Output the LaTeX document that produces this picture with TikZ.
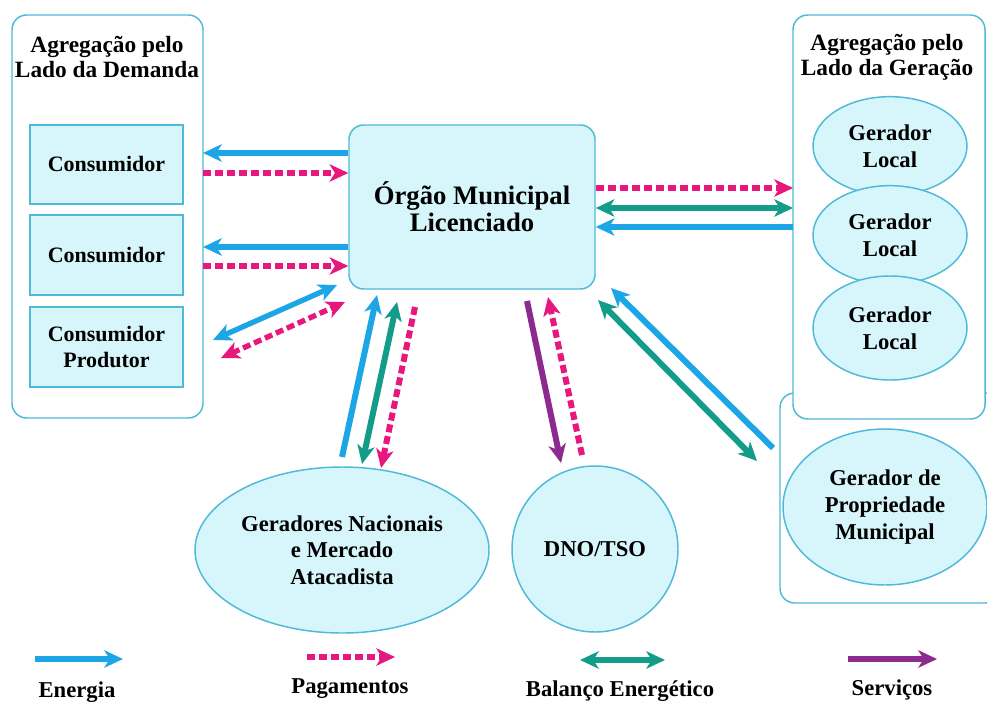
\documentclass[tikz,border=0pt]{standalone}
\usepackage{fontspec}
\setmainfont{Liberation Serif}
\usetikzlibrary{arrows.meta,shapes.geometric,calc}
\definecolor{boxfill}{HTML}{D6F6FC}
\definecolor{boxline}{HTML}{4FB9D8}
\definecolor{energy}{HTML}{1DA6E6}
\definecolor{pay}{HTML}{E8177E}
\definecolor{bal}{HTML}{149C8B}
\definecolor{serv}{HTML}{8C2B8E}
\tikzset{
  group/.style={draw=boxline, line width=1.1pt, rounded corners=11pt, fill=white},
  cbox/.style={draw=boxline, fill=boxfill, line width=1pt, inner sep=0pt,
    minimum width=114.75pt, align=center, font=\bfseries\fontsize{16.5}{19}\selectfont},
  orgbox/.style={draw=boxline, fill=boxfill, line width=1.1pt, rounded corners=11pt,
    minimum width=184.5pt, minimum height=123pt, align=center,
    font=\bfseries\fontsize{20}{20.5}\selectfont},
  ell/.style={ellipse, draw=boxline, fill=boxfill, line width=1.1pt, inner sep=0pt,
    align=center, font=\bfseries\fontsize{17}{20}\selectfont},
  gtitle/.style={align=center, font=\bfseries\fontsize{17.5}{19}\selectfont},
  legtext/.style={font=\bfseries\fontsize{17}{19}\selectfont},
  tip/.style={Stealth[length=14pt,width=13pt,inset=4pt]},
  en/.style={draw=energy, line width=4.5pt, -{Stealth[length=14pt,width=13pt,inset=4pt]}},
  enb/.style={draw=energy, line width=4pt, {Stealth[length=14pt,width=13pt,inset=4pt]}-{Stealth[length=14pt,width=13pt,inset=4pt]}},
  pa/.style={draw=pay, line width=4.5pt, dash pattern=on 6pt off 3pt, -{Stealth[length=14pt,width=13pt,inset=4pt]}},
  pab/.style={draw=pay, line width=4pt, dash pattern=on 6pt off 3pt, {Stealth[length=14pt,width=13pt,inset=4pt]}-{Stealth[length=14pt,width=13pt,inset=4pt]}},
  ba/.style={draw=bal, line width=4.5pt, {Stealth[length=14pt,width=13pt,inset=4pt]}-{Stealth[length=14pt,width=13pt,inset=4pt]}},
  se/.style={draw=serv, line width=4.5pt, -{Stealth[length=14pt,width=13pt,inset=4pt]}},
}
\begin{document}
\begin{tikzpicture}[x=0.75pt,y=-0.75pt]
\useasboundingbox (0,0) rectangle (987,702);
\clip (0,0) rectangle (987,702);
\fill[white] (0,0) rectangle (987,702);

% groups
\draw[group] (12,15) rectangle (203,418);
\coordinate (demE) at (203,200);
\node[gtitle] (demT) at (107,57) {Agregação pelo\\Lado da Demanda};

\draw[group] (780,393) rectangle (1000,603);
\draw[group] (793,15) rectangle (985,419);
\coordinate (genW) at (793,200);
\node[gtitle] (genT) at (887,57) {Agregação pelo\\Lado da Geração};

% consumer boxes
\node[cbox, minimum height=59.25pt] (c1) at (106.5,164.5) {Consumidor};
\node[cbox, minimum height=60pt] (c2) at (106.5,255) {Consumidor};
\node[cbox, minimum height=60pt] (c3) at (106.5,347) {Consumidor\\Produtor};

% central
\node[orgbox] (org) at (472,207) {Órgão Municipal\\Licenciado};

% local generators
\node[ell, minimum width=115.5pt, minimum height=74pt] (g1) at (890,146) {Gerador\\Local};
\node[ell, minimum width=115.5pt, minimum height=74pt] (g2) at (890,235) {Gerador\\Local};
\node[ell, minimum width=115.5pt, minimum height=78pt] (g3) at (890,328) {Gerador\\Local};

\node[ell, minimum width=153pt, minimum height=117pt] (gpm) at (885,507) {Gerador de\\Propriedade\\Municipal};
\node[ell, minimum width=220.5pt, minimum height=124.5pt] (gn) at (342,550) {Geradores Nacionais\\e Mercado\\Atacadista};
\node[ell, minimum width=124.5pt, minimum height=124.5pt] (dno) at (595,549) {DNO/TSO};

% left connectors
\draw[en] (org.west |- 0,153) -- (demE |- 0,153);
\draw[pa] (demE |- 0,173) -- (org.west |- 0,173);
\draw[en] (org.west |- 0,247) -- (demE |- 0,247);
\draw[pa] (demE |- 0,266) -- (org.west |- 0,266);
\coordinate (pa1) at (213,340); \coordinate (pa2) at (337,285);
\draw[enb] (pa1) -- (pa2);
\coordinate (pb1) at (221,358); \coordinate (pb2) at (345,302);
\draw[pab] (pb1) -- (pb2);

% right connectors
\draw[pa] (org.east |- 0,188) -- (genW |- 0,188);
\draw[ba] (org.east |- 0,208) -- (genW |- 0,208);
\draw[en] (genW |- 0,227) -- (org.east |- 0,227);

% bottom connectors
\coordinate (b1a) at (342,457); \coordinate (b1b) at (377,295);
\draw[en] (b1a) -- (b1b);
\coordinate (b2a) at (362,464); \coordinate (b2b) at (397,302);
\draw[ba] (b2a) -- (b2b);
\coordinate (b3a) at (415,307); \coordinate (b3b) at (381,468);
\draw[pa] (b3a) -- (b3b);
\coordinate (d1a) at (527,301); \coordinate (d1b) at (561,463);
\draw[se] (d1a) -- (d1b);
\coordinate (d2a) at (582,455); \coordinate (d2b) at (548,297);
\draw[pa] (d2a) -- (d2b);
\coordinate (m1a) at (773,448); \coordinate (m1b) at (611,288);
\draw[en] (m1a) -- (m1b);
\coordinate (m2a) at (598,300); \coordinate (m2b) at (757,461);
\draw[ba] (m2a) -- (m2b);

% legend
\coordinate (l1a) at (35,659); \coordinate (l1b) at (123,659);
\draw[en] (l1a) -- (l1b);
\node[legtext] (l1t) at (77,692) {Energia};
\coordinate (l2a) at (307,657); \coordinate (l2b) at (395,657);
\draw[pa] (l2a) -- (l2b);
\node[legtext] (l2t) at (350,689) {Pagamentos};
\coordinate (l3a) at (580,660); \coordinate (l3b) at (665,660);
\draw[ba] (l3a) -- (l3b);
\node[legtext] (l3t) at (620,691) {Balanço Energético};
\coordinate (l4a) at (848,659); \coordinate (l4b) at (937,659);
\draw[se] (l4a) -- (l4b);
\node[legtext] (l4t) at (892,690) {Serviços};
\end{tikzpicture}
\end{document}
